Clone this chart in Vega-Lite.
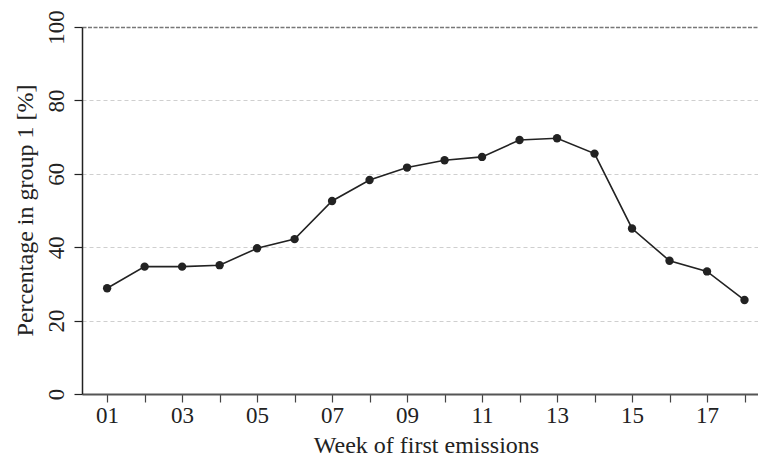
{
  "$schema": "https://vega.github.io/schema/vega-lite/v6.json",
  "autosize": "none",
  "width": 676,
  "height": 367,
  "padding": {"left": 82, "top": 27, "right": 0, "bottom": 62},
  "background": "white",
  "config": {
    "view": {"stroke": null},
    "font": "Liberation Serif"
  },
  "data": {
    "values": [
      {"week": 1, "pct": 28.8},
      {"week": 2, "pct": 34.7},
      {"week": 3, "pct": 34.7},
      {"week": 4, "pct": 35.1},
      {"week": 5, "pct": 39.7},
      {"week": 6, "pct": 42.2},
      {"week": 7, "pct": 52.6},
      {"week": 8, "pct": 58.3},
      {"week": 9, "pct": 61.7},
      {"week": 10, "pct": 63.7},
      {"week": 11, "pct": 64.6},
      {"week": 12, "pct": 69.2},
      {"week": 13, "pct": 69.7},
      {"week": 14, "pct": 65.5},
      {"week": 15, "pct": 45.1},
      {"week": 16, "pct": 36.3},
      {"week": 17, "pct": 33.4},
      {"week": 18, "pct": 25.6}
    ]
  },
  "encoding": {
    "x": {
      "field": "week",
      "type": "quantitative",
      "scale": {"domain": [0.33, 18.36], "nice": false, "zero": false},
      "axis": {
        "title": "Week of first emissions",
        "titleFont": "Liberation Serif",
        "titleFontSize": 24,
        "titleFontWeight": "normal",
        "titleColor": "#222",
        "titleX": 344,
        "titleY": 58,
        "titleAlign": "center",
        "titleBaseline": "alphabetic",
        "values": [1,2,3,4,5,6,7,8,9,10,11,12,13,14,15,16,17,18],
        "labelExpr": "datum.value % 2 == 1 ? (datum.value < 10 ? '0' + datum.value : '' + datum.value) : ''",
        "labelFont": "Liberation Serif",
        "labelFontSize": 23,
        "labelColor": "#222",
        "labelBaseline": "alphabetic",
        "labelPadding": 20,
        "labelFlush": false,
        "labelOverlap": false,
        "tickSize": 8,
        "tickColor": "#444",
        "tickWidth": 1.2,
        "domainColor": "#555",
        "domainWidth": 2,
        "grid": false
      }
    },
    "y": {
      "field": "pct",
      "type": "quantitative",
      "scale": {"domain": [0, 100], "nice": false},
      "axis": {
        "title": "Percentage in group 1 [%]",
        "titleFont": "Liberation Serif",
        "titleFontSize": 24,
        "titleFontWeight": "normal",
        "titleColor": "#222",
        "titleAngle": -90,
        "titleX": -50,
        "titleY": 183,
        "titleAlign": "center",
        "titleBaseline": "alphabetic",
        "values": [0, 20, 40, 60, 80, 100],
        "labelFont": "Liberation Serif",
        "labelFontSize": 23,
        "labelColor": "#222",
        "labelAngle": -90,
        "labelAlign": "center",
        "labelBaseline": "alphabetic",
        "labelPadding": 11,
        "tickSize": 8,
        "tickColor": "#222",
        "tickWidth": 1.2,
        "domainColor": "#222",
        "domainWidth": 1.5,
        "grid": true,
        "gridColor": {"condition": {"test": "datum.value === 100", "value": "#777"}, "value": "#cfcfcf"},
        "gridDash": {"condition": {"test": "datum.value === 100", "value": [4, 1.5]}, "value": [4, 3]},
        "gridWidth": {"condition": {"test": "datum.value === 100", "value": 1.5}, "value": 1}
      }
    }
  },
  "layer": [
    {
      "mark": {"type": "line", "color": "#222", "strokeWidth": 1.6}
    },
    {
      "mark": {"type": "point", "filled": true, "color": "#222", "size": 70, "opacity": 1}
    }
  ]
}
